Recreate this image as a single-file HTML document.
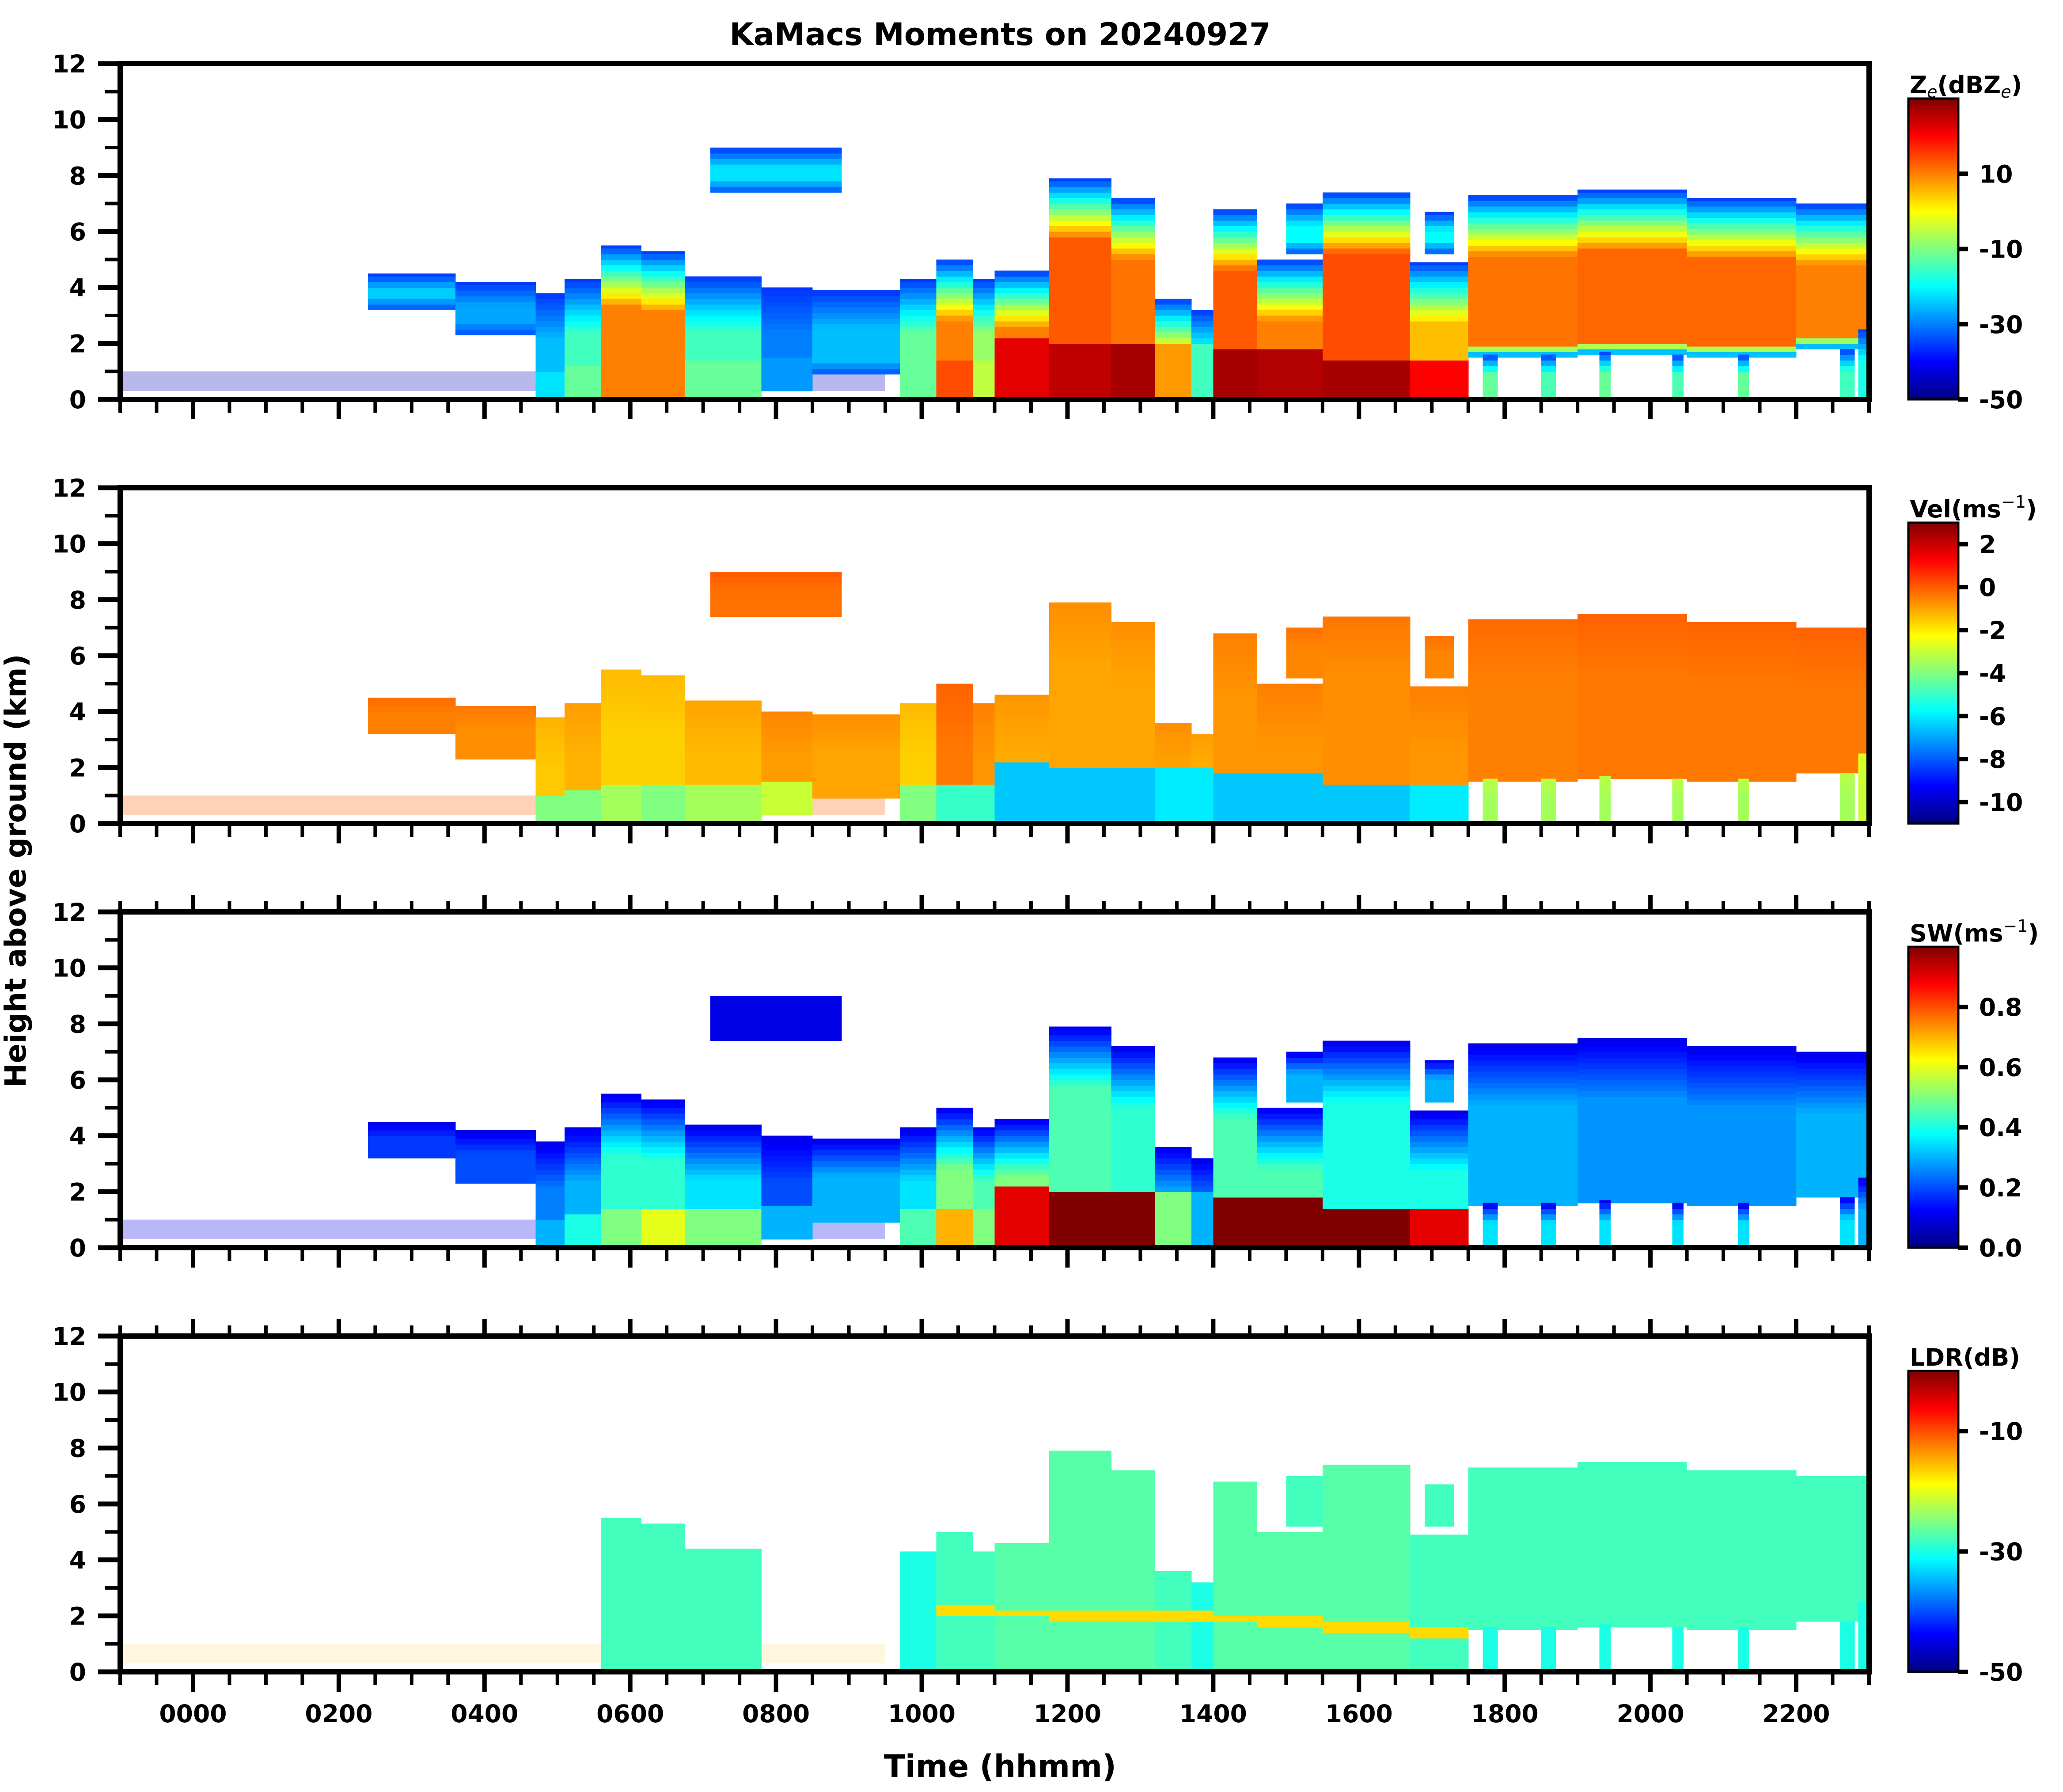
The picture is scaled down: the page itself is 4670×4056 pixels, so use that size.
<!DOCTYPE html>
<html><head><meta charset="utf-8"><title>KaMacs Moments on 20240927</title>
<style>
html,body{margin:0;padding:0;background:#fff;}
svg{display:block;font-family:"DejaVu Sans","Liberation Sans",sans-serif;font-weight:bold;}
</style></head>
<body>
<svg id="chart" width="4670" height="4056" viewBox="0 0 4670 4056" xmlns="http://www.w3.org/2000/svg">
<text x="2264" y="102" font-size="70" text-anchor="middle">KaMacs Moments on 20240927</text>
<text transform="translate(58,1971) rotate(-90)" font-size="66" text-anchor="middle">Height above ground (km)</text>
<text x="2264" y="4022" font-size="70" text-anchor="middle">Time (hhmm)</text>
<g id="layers"></g>
</svg>
<script>
// ---- data: echo segments (hours relative to 0000, heights in km) ----
const segStart   = [2.4,3.6,4.7,5.1,5.6,6.15,6.75,7.8,8.5,9.7,10.2,10.7,11.0,11.75,12.6,13.2,13.7,14.0,14.6,15.5,16.7,17.5,19.0,20.5,22.0, 7.1,15.0,16.9, 17.7,18.5,19.3,20.3,21.2,22.6,22.85];
const segEnd     = [3.6,4.7,5.1,5.6,6.15,6.75,7.8,8.5,9.7,10.2,10.7,11.0,11.75,12.6,13.2,13.7,14.0,14.6,15.5,16.7,17.5,19.0,20.5,22.0,23.0, 8.9,15.5,17.3, 17.9,18.7,19.45,20.45,21.35,22.8,22.97];
const segTop     = [4.5,4.2,3.8,4.3,5.5,5.3,4.4,4.0,3.9,4.3,5.0,4.3,4.6,7.9,7.2,3.6,3.2,6.8,5.0,7.4,4.9,7.3,7.5,7.2,7.0, 9.0,7.0,6.7, 1.6,1.6,1.7,1.6,1.6,1.8,2.5];
const segBase    = [3.2,2.3,0,0,0,0,0,0.3,0.9,0,0,0,0,0,0,0,0,0,0,0,0,1.5,1.6,1.5,1.8, 7.4,5.2,5.2, 0,0,0,0,0,0,0];
const segZe      = [-24,-27,-25,-15,10,10,-15,-30,-25,-12,10,-8,10,13,11,-2,-18,13,10,14,5,11,12,12,10, -22,-20,-20, -12,-14,-12,-14,-12,-15,-18];
const segRainTop = [0,0,1.0,1.2,1.5,1.5,1.5,1.5,0,1.5,1.5,1.5,2.1,2.0,2.0,2.0,2.0,1.8,1.8,1.4,1.3,0,0,0,0, 0,0,0, 0,0,0,0,0,0,0];
const segRainZe  = [0,0,-22,-12,10,10,-12,-28,0,-12,14,-5,22,25,27,8,-15,27,26,27,20,0,0,0,0, 0,0,0, 0,0,0,0,0,0,0];
const segVel     = [-0.5,-0.7,-1.5,-1.2,-1.6,-1.6,-1.3,-0.9,-1.0,-1.6,-0.4,-0.8,-1.1,-1.0,-1.0,-1.0,-1.2,-0.8,-0.8,-0.7,-0.8,-0.5,-0.4,-0.4,-0.4, -0.3,-0.6,-0.6, -3.5,-3.5,-3.5,-3.5,-3.5,-3.5,-3.0];
const segRainVel = [0,0,-4,-4,-3.5,-4,-3.5,-3,0,-4,-5,-5,-6.5,-6.5,-6.5,-6,-6,-6.5,-6.5,-6.5,-6,0,0,0,0, 0,0,0, 0,0,0,0,0,0,0];
const segSW      = [0.18,0.2,0.25,0.3,0.42,0.42,0.35,0.2,0.3,0.35,0.5,0.45,0.5,0.45,0.42,0.3,0.25,0.45,0.45,0.4,0.4,0.3,0.27,0.27,0.3, 0.1,0.3,0.3, 0.35,0.35,0.35,0.35,0.35,0.35,0.3];
const segRainSW  = [0,0,0.3,0.4,0.5,0.6,0.5,0.3,0,0.45,0.7,0.5,0.9,1.0,1.0,0.5,0.3,1.0,1.0,1.0,0.9,0,0,0,0, 0,0,0, 0,0,0,0,0,0,0];
const segLDR     = [null,null,null,null,-28,-28,-28,null,null,-30,-28,-28,-27,-27,-27,-28,-30,-27,-27,-27,-28,-28,-28,-28,-28, null,-28,-28, -30,-30,-30,-30,-30,-30,-30];
const segML      = [0,0,0,0,0,0,0,0,0,0,2.2,2.2,2.1,2.0,2.0,2.0,2.0,1.9,1.8,1.6,1.4,1.4,1.3,1.3,1.4, 0,0,0, 0,0,0,0,0,0,0];
// boundary-layer clutter
const clutStart = [-1, 4.7];
const clutEnd   = [4.7, 9.5];
const clutTop   = [1.0, 1.0];
const clutBase  = [0.3, 0.3];
// axes
const xTickHours  = [0,2,4,6,8,10,12,14,16,18,20,22];
const xTickLabels = ["0000","0200","0400","0600","0800","1000","1200","1400","1600","1800","2000","2200"];
const yTickKm     = [0,2,4,6,8,10,12];
const yTickLabels = ["0","2","4","6","8","10","12"];
const panelNames  = ["reflectivity","velocity","spectrum-width","ldr"];
const cbMin = [-50,-11,0,-50];
const cbMax = [30,3,1.0,0];
const cbTicks = [[10,-10,-30,-50],[2,0,-2,-4,-6,-8,-10],[0.8,0.6,0.4,0.2,0.0],[-10,-30,-50]];
const cbTickLabels = [["10","-10","-30","-50"],["2","0","-2","-4","-6","-8","-10"],["0.8","0.6","0.4","0.2","0.0"],["-10","-30","-50"]];

// ---- layout ----
const X0=272, X1=4231, T0=-1, T1=23;
const panelTop=[144,1104,2064,3024], PH=760;
const CBX=4320, CBW=113;
const cbTop=[223,1183,2143,3103], CBH=681;
const NS="http://www.w3.org/2000/svg";
const root=document.getElementById('layers');
function xs(t){return X0+(t-T0)/(T1-T0)*(X1-X0);}
function ys(p,h){return panelTop[p]+PH-h/12*PH;}
function jet(x){x=Math.max(0,Math.min(1,x));
  const c=v=>Math.round(255*Math.max(0,Math.min(1,v)));
  return `rgb(${c(1.5-Math.abs(4*x-3))},${c(1.5-Math.abs(4*x-2))},${c(1.5-Math.abs(4*x-1))})`;}
function col(p,v){return jet((v-cbMin[p])/(cbMax[p]-cbMin[p]));}
function mk(tag,attrs,parent){const e=document.createElementNS(NS,tag);for(const k in attrs)e.setAttribute(k,attrs[k]);(parent||root).appendChild(e);return e;}

function valueAt(p,i,h){
  const top=segTop[i], base=segBase[i];
  const ramp=Math.min(2.2,Math.max(0.3,0.45*(top-base)));
  const f=Math.min(1,(top-h)/ramp);
  const rt=segRainTop[i];
  if(p===0){
    if(rt>0 && h<rt) return segRainZe[i];
    let v=-36+(segZe[i]+36)*f;
    if(base>0){const g=Math.min(1,(h-base)/0.5);v=-34+(v+34)*g;}
    return v;
  }
  if(p===1){
    if(rt>0 && h<rt) return segRainVel[i];
    return segVel[i]+0.3*(1-f);
  }
  if(p===2){
    if(rt>0 && h<rt) return segRainSW[i];
    return 0.1+(segSW[i]-0.1)*f;
  }
  if(segLDR[i]===null) return null;
  const ml=segML[i];
  if(ml>0 && Math.abs(h-ml)<0.14) return -17;
  return segLDR[i];
}

const DH=0.2;
for(let p=0;p<4;p++){
  const g=mk('g',{'shape-rendering':'crispEdges'});
  
  
  for(let c=0;c<clutStart.length;c++){
    const cv=[-45,0,0.1,-15][p];
    const r=mk('rect',{x:xs(clutStart[c]),y:ys(p,clutTop[c]),width:xs(clutEnd[c])-xs(clutStart[c]),height:ys(p,clutBase[c])-ys(p,clutTop[c]),fill:col(p,cv),opacity:p===3?0.12:0.28},g);
    
    
  }
  for(let i=0;i<segStart.length;i++){
    const x=xs(segStart[i]), w=xs(segEnd[i])-x;
    for(let h=segBase[i];h<segTop[i]-1e-6;h+=DH){
      const h2=Math.min(segTop[i],h+DH);
      const v=valueAt(p,i,(h+h2)/2);
      if(v===null) continue;
      const r=mk('rect',{x:x.toFixed(1),y:ys(p,h2).toFixed(1),width:(w+0.6).toFixed(1),height:(ys(p,h)-ys(p,h2)+0.6).toFixed(1),fill:col(p,v)},g);
      
      
    }
  }
  const top=panelTop[p], bot=top+PH;
  const fr=mk('rect',{x:X0,y:top,width:X1-X0,height:PH,fill:'none',stroke:'#000','stroke-width':12});
  
  
  for(let k=0;k<=12;k++){
    const y=ys(p,k), major=k%2===0;
    const tk=mk('line',{x1:X0-(major?50:35),x2:X0,y1:y,y2:y,stroke:'#000','stroke-width':major?11:8});
    
    
  }
  yTickKm.forEach((k,j)=>{
    const t=mk('text',{x:195,y:ys(p,k)+20,'font-size':55,'text-anchor':'end'});
    t.textContent=yTickLabels[j];
    
    
  });
  for(let m=0;m<=48;m++){
    const t=T0+m*0.5, x=xs(t);
    const major=Math.abs(t%2)<1e-6 && t>=0;
    const b=mk('line',{x1:x,x2:x,y1:bot+6,y2:bot+(major?45:30),stroke:'#000','stroke-width':major?10:8});
    
    
    if(p>=2){
      const u=mk('line',{x1:x,x2:x,y1:top-6,y2:top-(major?38:24),stroke:'#000','stroke-width':major?10:8});
      
      
    }
  }
  const ct=cbTop[p];
  const gid='jetgrad'+p;
  const defs=mk('defs',{});
  const lg=mk('linearGradient',{id:gid,x1:0,y1:1,x2:0,y2:0},defs);
  for(let s=0;s<=16;s++){mk('stop',{offset:s/16,'stop-color':jet(s/16)},lg);}
  const cb=mk('rect',{x:CBX,y:ct,width:CBW,height:CBH,fill:`url(#${gid})`,stroke:'#000','stroke-width':5});
  
  
  cbTicks[p].forEach((v,j)=>{
    const y=ct+CBH-(v-cbMin[p])/(cbMax[p]-cbMin[p])*CBH;
    const tk=mk('line',{x1:CBX+CBW,x2:CBX+CBW+22,y1:y,y2:y,stroke:'#000','stroke-width':10});
    
    
    const tl=mk('text',{x:4480,y:y+20,'font-size':55});
    tl.textContent=cbTickLabels[p][j];
    
    
  });
}
const cbt=[
 '<tspan>Z</tspan><tspan font-style="italic" font-weight="normal" font-size="38" dy="10">e</tspan><tspan dy="-10">(dBZ</tspan><tspan font-style="italic" font-weight="normal" font-size="38" dy="10">e</tspan><tspan dy="-10">)</tspan>',
 'Vel(ms<tspan font-size="38" font-weight="normal" dy="-22">−1</tspan><tspan dy="22">)</tspan>',
 'SW(ms<tspan font-size="38" font-weight="normal" dy="-22">−1</tspan><tspan dy="22">)</tspan>',
 'LDR(dB)'];
const cbtNames=['ze-colorbar-title','vel-colorbar-title','sw-colorbar-title','ldr-colorbar-title'];
for(let p=0;p<4;p++){
  const t=mk('text',{x:4323,y:cbTop[p]-12,'font-size':54});
  t.innerHTML=cbt[p];
  
  
}
xTickHours.forEach((hh,j)=>{
  const t=mk('text',{x:xs(hh),y:3898,'font-size':55,'text-anchor':'middle'});
  t.textContent=xTickLabels[j];
  
  
});
</script>
</body></html>
